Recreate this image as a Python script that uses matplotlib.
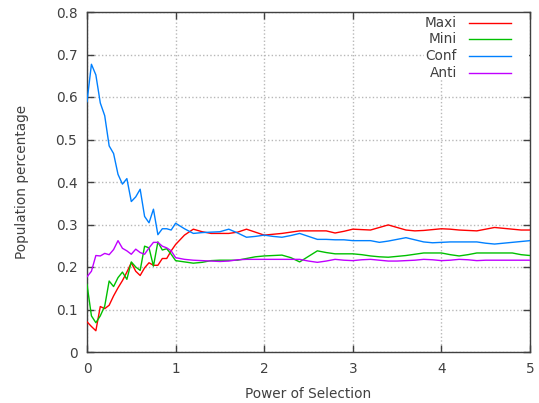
import numpy as np
import matplotlib
matplotlib.use("Agg")
import matplotlib.pyplot as plt
from matplotlib.patches import Rectangle

# power of selection: 0.05 steps up to 1, then 0.1 steps up to 5
power = np.round(np.concatenate([np.arange(0, 1.0001, 0.05), np.arange(1.1, 5.0001, 0.1)]), 2)

maxi = [0.071, 0.060, 0.050, 0.107, 0.102, 0.110, 0.132, 0.151, 0.168, 0.188,
        0.210, 0.190, 0.180, 0.198, 0.210, 0.204, 0.204, 0.220, 0.220, 0.238,
        0.253,
        0.275, 0.289, 0.283, 0.279, 0.279, 0.279, 0.282, 0.289, 0.282, 0.275,
        0.277, 0.279, 0.282, 0.285, 0.285, 0.285, 0.285, 0.280, 0.284, 0.289,
        0.288, 0.287, 0.293, 0.299, 0.293, 0.287, 0.285, 0.286, 0.288, 0.290,
        0.289, 0.287, 0.286, 0.285, 0.289, 0.293, 0.291, 0.289, 0.287, 0.287]

mini = [0.159, 0.085, 0.069, 0.085, 0.108, 0.167, 0.154, 0.175, 0.188, 0.171,
        0.212, 0.200, 0.192, 0.249, 0.245, 0.202, 0.259, 0.240, 0.243, 0.230,
        0.215,
        0.212, 0.209, 0.211, 0.215, 0.216, 0.216, 0.216, 0.220, 0.224, 0.226,
        0.227, 0.228, 0.222, 0.212, 0.225, 0.238, 0.234, 0.231, 0.231, 0.231,
        0.229, 0.226, 0.224, 0.223, 0.225, 0.227, 0.230, 0.233, 0.233, 0.233,
        0.229, 0.226, 0.229, 0.233, 0.233, 0.233, 0.233, 0.233, 0.229, 0.227]

conf = [0.589, 0.677, 0.652, 0.586, 0.556, 0.485, 0.467, 0.418, 0.395, 0.408,
        0.354, 0.365, 0.383, 0.319, 0.304, 0.336, 0.276, 0.290, 0.290, 0.287,
        0.303,
        0.290, 0.279, 0.281, 0.282, 0.283, 0.289, 0.280, 0.270, 0.272, 0.275,
        0.272, 0.270, 0.274, 0.279, 0.272, 0.265, 0.265, 0.264, 0.264, 0.262,
        0.262, 0.262, 0.258, 0.261, 0.265, 0.269, 0.264, 0.259, 0.257, 0.258,
        0.259, 0.259, 0.259, 0.259, 0.256, 0.254, 0.256, 0.258, 0.260, 0.262]

anti = [0.177, 0.190, 0.227, 0.226, 0.232, 0.229, 0.241, 0.262, 0.244, 0.238,
        0.230, 0.242, 0.234, 0.230, 0.245, 0.258, 0.258, 0.249, 0.245, 0.238,
        0.222,
        0.218, 0.216, 0.215, 0.214, 0.213, 0.214, 0.217, 0.218, 0.218, 0.218,
        0.218, 0.218, 0.218, 0.218, 0.214, 0.211, 0.214, 0.218, 0.216, 0.215,
        0.217, 0.218, 0.216, 0.214, 0.214, 0.215, 0.216, 0.218, 0.217, 0.215,
        0.216, 0.218, 0.217, 0.215, 0.216, 0.216, 0.216, 0.216, 0.216, 0.216]

labels = ["Maxi", "Mini", "Conf", "Anti"]
colors = ["#ff0000", "#00c000", "#0080ff", "#c000ff"]

ytick_vals = [0, 0.1, 0.2, 0.3, 0.4, 0.5, 0.6, 0.7, 0.8]
ytick_labels = ["0", "0.1", "0.2", "0.3", "0.4", "0.5", "0.6", "0.7", "0.8"]
xtick_vals = [0, 1, 2, 3, 4, 5]

grey = "#404040"
plt.rcParams["font.family"] = "DejaVu Sans"
plt.rcParams["font.size"] = 9.8

fig = plt.figure(figsize=(5.39, 4.03), dpi=100)
ax = fig.add_axes([87 / 539, 1 - 352 / 403, 443 / 539, 340 / 403])

for series, lab, col in zip([maxi, mini, conf, anti], labels, colors):
    ax.plot(power, series, color=col, lw=1.0, label=lab, zorder=3)

ax.set_xlim(0, 5)
ax.set_ylim(0, 0.8)
ax.set_xticks(xtick_vals)
ax.set_xticklabels([str(v) for v in xtick_vals])
ax.set_yticks(ytick_vals)
ax.set_yticklabels(ytick_labels)

# fine dotted grid like gnuplot's
ax.grid(True, color="#b8b8b8", linestyle=(0, (1, 1.6)), linewidth=1.0, zorder=0)
ax.tick_params(direction="in", length=5, width=1, color=grey, labelcolor=grey,
               top=True, right=True, pad=7)
for sp in ax.spines.values():
    sp.set_color(grey)
    sp.set_linewidth(1.0)

ax.set_xlabel("Power of Selection", color=grey)
ax.set_ylabel("Population percentage", color=grey)
ax.xaxis.set_label_coords(0.5, -0.102)
ax.yaxis.set_label_coords(-0.132, 0.5)

# gnuplot-style key: opaque box, right aligned text, sample line on the right
ax.add_patch(Rectangle((0.76, 0.80), 0.238, 0.197, transform=ax.transAxes,
                       facecolor="white", edgecolor="none", zorder=2))
key_y = [0.967, 0.921, 0.871, 0.822]
for lab, col, ky in zip(labels, colors, key_y):
    ax.text(0.835, ky, lab, transform=ax.transAxes, ha="right", va="center",
            color=grey, zorder=4)
    ax.plot([0.862, 0.958], [ky, ky], transform=ax.transAxes, color=col,
            lw=1.0, zorder=4)

fig.savefig("out.png", dpi=100)
